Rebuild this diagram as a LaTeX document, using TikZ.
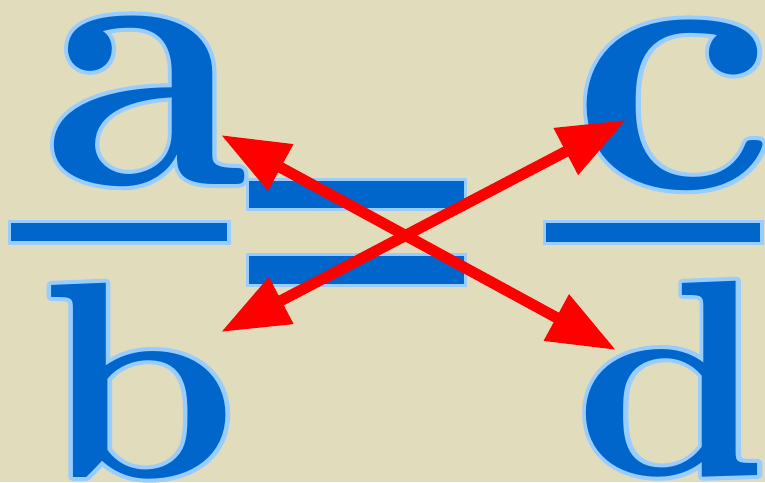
\documentclass[tikz,border=0pt]{standalone}
\usetikzlibrary{arrows.meta}
% letter with a light blue rim: stroke-only copy under the filled one
\newcommand\rimmed[1]{%
	\special{pdf:literal direct 1 Tr 8 w 1 j 0.6 0.8 1 RG}\rlap{#1}%
	\special{pdf:literal direct 0 Tr}#1}
\begin{document}
\begin{tikzpicture}[x=1pt,y=1pt]
	%---------------- Colors & styles ----------------
	\definecolor{paper}{RGB}{224,220,188}   % beige background
	\definecolor{ink}{RGB}{0,102,204}       % blue letters and bars
	\definecolor{rim}{RGB}{153,204,255}     % light blue outline
	\definecolor{cross}{RGB}{255,0,0}       % red arrows
	\tikzset{
		bigletter/.style={inner sep=0pt, anchor=base, text=ink,
			font=\fontsize{372}{372}\selectfont\bfseries},
		smallletter/.style={bigletter, font=\fontsize{280}{280}\selectfont\bfseries},
		bar/.style={fill=ink, draw=rim, line width=3.5pt},
		link/.style={cross, line width=11pt,
			{Triangle[length=68pt,width=50pt]}-{Triangle[length=68pt,width=50pt]}},
	}
	
	%---------------- Page ----------------
	\fill[paper] (0,0) rectangle (765,-482);
	\useasboundingbox (0,0) rectangle (765,-482);
	
	%---------------- Letters ----------------
	\node[bigletter]   (a) at (145,-184) {\rimmed{a}};
	\node[smallletter] (b) at (139,-477) {\scalebox{1.13}[1]{\rimmed{b}}};
	\node[bigletter]   (c) at (674,-188) {\scalebox{1.1}[1]{\rimmed{c}}};
	\node[smallletter] (d) at (672,-475) {\scalebox{1.11}[1]{\rimmed{d}}};
	
	%---------------- Fraction bars and equals sign ----------------
	\draw[bar] (9.5,-221.5) rectangle (229,-243);      % a over b
	\draw[bar] (544.5,-221.5) rectangle (762,-243.5);  % c over d
	\draw[bar] (247.5,-179.5) rectangle (465.5,-209.5);
	\draw[bar] (247.5,-254.5) rectangle (465.5,-285.5);
	
	%---------------- Cross products ----------------
	\coordinate (atip) at (221,-135);
	\coordinate (btip) at (221,-332);
	\coordinate (ctip) at (626,-120);
	\coordinate (dtip) at (616,-350);
	\draw[link] (atip) -- (dtip);
	\draw[link] (btip) -- (ctip);
\end{tikzpicture}
\end{document}
